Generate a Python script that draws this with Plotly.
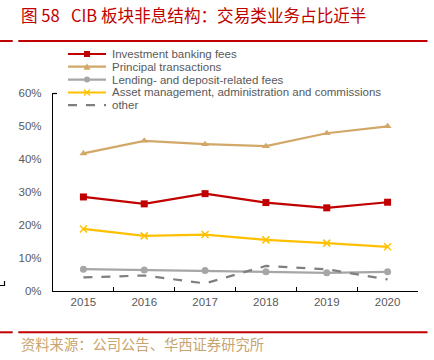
import plotly.graph_objects as go

years = ["2015", "2016", "2017", "2018", "2019", "2020"]
ib_fees = [0.285, 0.264, 0.295, 0.268, 0.252, 0.269]
principal = [0.417, 0.455, 0.445, 0.439, 0.478, 0.499]
lending = [0.066, 0.064, 0.062, 0.058, 0.055, 0.058]
asset_mgmt = [0.188, 0.167, 0.171, 0.155, 0.145, 0.134]
other = [0.041, 0.047, 0.023, 0.076, 0.066, 0.035]

names = ["Investment banking fees", "Principal transactions",
         "Lending- and deposit-related fees",
         "Asset management, administration and commissions", "other"]
colors = ["#c00000", "#d2a868", "#a6a6a6", "#ffc000", "#7f7f7f"]
symbols = ["square", "triangle-up", "circle", "x-thin", None]
series = [ib_fees, principal, lending, asset_mgmt, other]

FONT = "Liberation Sans, Arial, sans-serif"
CJK = "Noto Sans CJK SC"

fig = go.Figure()
for name, vals, col, sym in zip(names, series, colors, symbols):
    if sym is None:
        fig.add_trace(go.Scatter(x=years, y=vals, mode="lines", name=name,
                                 line=dict(color=col, width=2.2, dash="dash")))
    else:
        mk = dict(symbol=sym, size=7, color=col)
        if sym == "x-thin":
            mk["line"] = dict(color=col, width=1.5)
        fig.add_trace(go.Scatter(x=years, y=vals, mode="lines+markers", name=name,
                                 line=dict(color=col, width=2.2), marker=mk))

W, H = 434, 360
L, R, T, B = 53, 16, 93, 69
pw, ph = W - L - R, H - T - B

def px(x):
    return (x - L) / pw

def py(y):
    return (H - B - y) / ph

shapes = []
annotations = []
# legend (manual, compact spacing)
rows = [54, 66.7, 79.6, 92.5, 105.2]
lx0, lx1, tx, mx = 68, 106, 110, 87
for i, (name, col, sym) in enumerate(zip(names, colors, symbols)):
    yy = rows[i]
    shapes.append(dict(type="line", xref="paper", yref="paper",
                       x0=px(lx0), x1=px(lx1), y0=py(yy), y1=py(yy),
                       line=dict(color=col, width=2.2,
                                 dash="dash" if sym is None else "solid")))
    annotations.append(dict(text=name, xref="paper", yref="paper", x=px(tx), y=py(yy),
                            xanchor="left", yanchor="middle", showarrow=False,
                            font=dict(family=FONT, size=11.5, color="#595959")))
    if sym == "square":
        shapes.append(dict(type="rect", xref="paper", yref="paper",
                           x0=px(mx - 3), x1=px(mx + 3), y0=py(yy - 3), y1=py(yy + 3),
                           fillcolor=col, line=dict(width=0)))
    elif sym == "circle":
        shapes.append(dict(type="circle", xref="paper", yref="paper",
                           x0=px(mx - 3), x1=px(mx + 3), y0=py(yy - 3), y1=py(yy + 3),
                           fillcolor=col, line=dict(width=0)))
    elif sym == "triangle-up":
        shapes.append(dict(type="path", xref="paper", yref="paper",
                           path=f"M {px(mx-3.5)},{py(yy+3)} L {px(mx+3.5)},{py(yy+3)} L {px(mx)},{py(yy-3.5)} Z",
                           fillcolor=col, line=dict(width=0)))
    elif sym == "x-thin":
        shapes.append(dict(type="path", xref="paper", yref="paper",
                           path=(f"M {px(mx-3)},{py(yy-3)} L {px(mx+3)},{py(yy+3)} "
                                 f"M {px(mx-3)},{py(yy+3)} L {px(mx+3)},{py(yy-3)}"),
                           line=dict(color=col, width=1.3)))

# red rules
for yy in (41, 332.3):
    for x0, x1 in ((0, 12.7), (18.3, 427.5)):
        shapes.append(dict(type="line", xref="paper", yref="paper",
                           x0=px(x0), x1=px(x1), y0=py(yy), y1=py(yy),
                           line=dict(color="#c00000", width=2)))
# small top tick on y axis
shapes.append(dict(type="line", xref="paper", yref="paper",
                   x0=px(53), x1=px(57), y0=py(93.5), y1=py(93.5),
                   line=dict(color="black", width=1.2)))
# small corner mark at left
shapes.append(dict(type="path", xref="paper", yref="paper",
                   path=f"M {px(0)},{py(285.5)} L {px(4.5)},{py(285.5)} L {px(4.5)},{py(281)}",
                   line=dict(color="black", width=1.2)))

annotations.append(dict(text="图 58   CIB 板块非息结构：交易类业务占比近半", xref="paper", yref="paper",
                        x=px(19), y=py(15), xanchor="left", yanchor="middle", showarrow=False,
                        font=dict(family=CJK, size=16.6, color="#c00000")))
annotations.append(dict(text="资料来源：公司公告、华西证券研究所", xref="paper", yref="paper",
                        x=px(19), y=py(343), xanchor="left", yanchor="middle", showarrow=False,
                        font=dict(family=CJK, size=14.3, color="#c8a46e")))

fig.update_layout(
    width=W, height=H,
    margin=dict(l=L, r=R, t=T, b=B, pad=0),
    paper_bgcolor="white", plot_bgcolor="white",
    showlegend=False,
    shapes=shapes, annotations=annotations,
    xaxis=dict(type="category", range=[-0.5, 5.5], showline=True, linecolor="black",
               linewidth=1.2, ticks="inside", tickson="boundaries", ticklen=4,
               tickcolor="black", showgrid=False, zeroline=False,
               tickfont=dict(family=FONT, size=11.5, color="#595959")),
    yaxis=dict(range=[0, 0.6], dtick=0.1, tickformat=".0%", showline=True,
               linecolor="black", linewidth=1.2, ticks="", showgrid=False,
               zeroline=False, ticklabelstandoff=8,
               tickfont=dict(family=FONT, size=11.5, color="#595959")),
)

fig.write_html("out.html", config={"displayModeBar": False},
               post_script="document.body.style.margin='0';")
